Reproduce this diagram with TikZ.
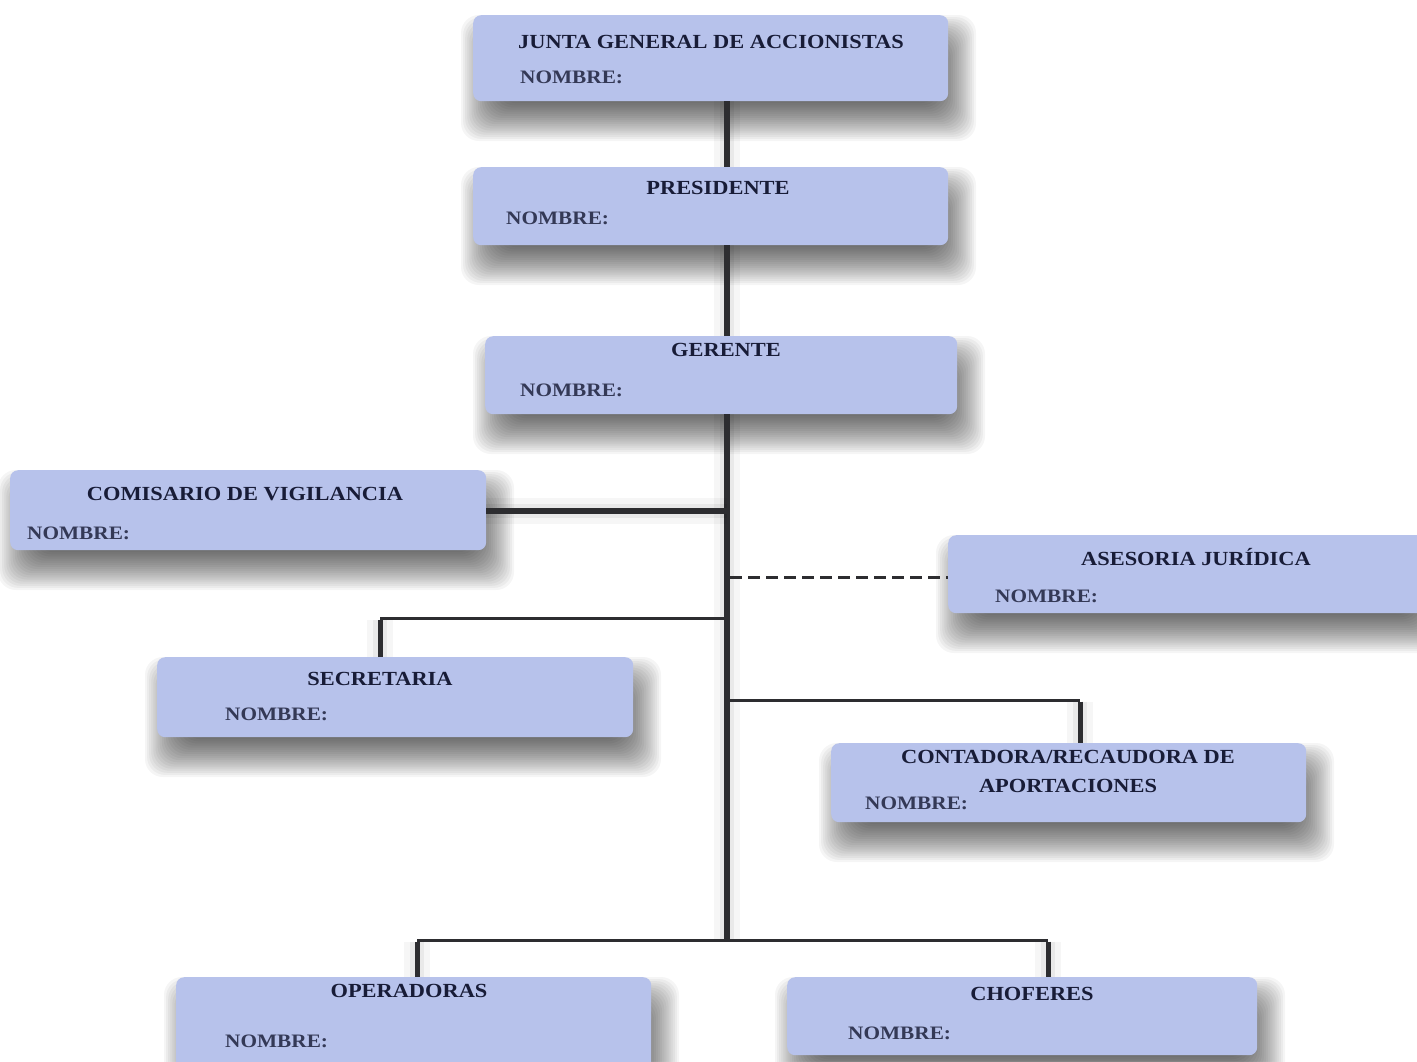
\documentclass[tikz,border=0pt]{standalone}
\usepackage{fontspec}
\setmainfont[FakeStretch=1.12]{Liberation Serif}
\definecolor{boxfill}{RGB}{183,194,235}
\definecolor{titlecol}{RGB}{24,28,55}
\definecolor{namecol}{RGB}{52,57,86}
\definecolor{linecol}{RGB}{45,45,48}
\tikzset{
  orgbox/.style={fill=boxfill, draw=none, rounded corners=8pt, inner sep=0pt,
    anchor=north west},
  softshade/.style={fill=black, opacity=0.04, rounded corners=18pt},
  glow/.style={preaction={draw=black, opacity=0.035, line width=26pt},
               preaction={draw=black, opacity=0.05, line width=14pt}},
  title/.style={inner sep=0pt, text=titlecol,
    font=\fontsize{20}{24}\selectfont\bfseries},
  nombre/.style={inner sep=0pt, anchor=west, text=namecol,
    font=\fontsize{19}{23}\selectfont\bfseries},
  mainline/.style={draw=linecol, line width=6pt, glow},
  thinline/.style={draw=linecol, line width=3pt},
  dropline/.style={draw=linecol, line width=5pt, glow},
  dashline/.style={draw=linecol, line width=3pt, dash pattern=on 12pt off 6pt},
}
% box from (x1,y1) to (x2,y2), y measured downwards, with a soft drop shadow
\newcommand\orgunit[5]{%
  \foreach \k in {0,...,19}{%
    \fill[softshade] (#2+8-20+\k*2.1, #3+20-20+\k*2.1)
       rectangle (#4+8+20-\k*2.1, #5+20+20-\k*2.1);}
  \node[orgbox, minimum width={(#4-#2)*1pt}, minimum height={(#5-#3)*1pt}]
    (#1) at (#2,#3) {};}
\begin{document}
\begin{tikzpicture}[x=1pt, y=-1pt]
\useasboundingbox (0,0) rectangle (1417,1061);
\fill[white] (0,0) rectangle (1417,1061);
\begin{scope}
\clip (0,0) rectangle (1417,1061);

\coordinate (sx) at (727,0);

% boxes
\orgunit{junta}{473}{15}{948}{101}
\orgunit{pres}{473}{167}{948}{245}
\orgunit{ger}{485}{336}{957}{414}
\orgunit{com}{10}{470}{486}{550}
\orgunit{ase}{948}{535}{1425}{613}
\orgunit{sec}{157}{657}{633}{737}
\orgunit{cont}{831}{743}{1306}{822}
\orgunit{oper}{176}{977}{651}{1075}
\orgunit{chof}{787}{977}{1257}{1055}

\coordinate (spineend) at (727,940);
\coordinate (secjoin) at (380,618);
\coordinate (secright) at (727,618);
\coordinate (contjoin) at (1080,700);
\coordinate (contleft) at (727,700);
\coordinate (botleft) at (417,940);
\coordinate (botright) at (1048,940);
\coordinate (asejoin) at (730,577);
\coordinate (comjoin) at (727,511);

% connectors
\draw[mainline] (junta.south -| sx) -- (pres.north -| sx);
\draw[mainline] (pres.south -| sx) -- (ger.north -| sx);
\draw[mainline] (ger.south -| sx) -- (spineend);
\draw[mainline] (com.east |- comjoin) -- (comjoin);
\draw[dashline] (asejoin) -- (ase.west |- asejoin);
\draw[thinline] (secright) -- (secjoin);
\draw[dropline] ([yshift=-1.5pt]secjoin) -- (sec.north -| secjoin);
\draw[thinline] (contleft) -- (contjoin);
\draw[dropline] ([yshift=-1.5pt]contjoin) -- (cont.north -| contjoin);
\draw[thinline] (botleft) -- (botright);
\draw[dropline] ([yshift=-1.5pt]botleft) -- (oper.north -| botleft);
\draw[dropline] ([yshift=-1.5pt]botright) -- (chof.north -| botright);

% texts
\node[title, anchor=west] (tjunta) at (518,42) {JUNTA GENERAL DE ACCIONISTAS};
\node[nombre] (njunta) at (520,77) {NOMBRE:};
\node[title] (tpres) at (718,188) {PRESIDENTE};
\node[nombre] (npres) at (506,218) {NOMBRE:};
\node[title] (tger) at (726,350) {GERENTE};
\node[nombre] (nger) at (520,390) {NOMBRE:};
\node[title] (tcom) at (245,494) {COMISARIO DE VIGILANCIA};
\node[nombre] (ncom) at (27,533) {NOMBRE:};
\node[title] (tase) at (1196,557) {ASESORIA JURÍDICA};
\node[nombre] (nase) at (995,596) {NOMBRE:};
\node[title] (tsec) at (380,679) {SECRETARIA};
\node[nombre] (nsec) at (225,714) {NOMBRE:};
\node[title] (tcont1) at (1068,757) {CONTADORA/RECAUDORA DE};
\node[title] (tcont2) at (1068,786) {APORTACIONES};
\node[nombre] (ncont) at (865,803) {NOMBRE:};
\node[title] (toper) at (409,991) {OPERADORAS};
\node[nombre] (noper) at (225,1041) {NOMBRE:};
\node[title] (tchof) at (1032,994) {CHOFERES};
\node[nombre] (nchof) at (848,1033) {NOMBRE:};
\end{scope}
\end{tikzpicture}
\end{document}
